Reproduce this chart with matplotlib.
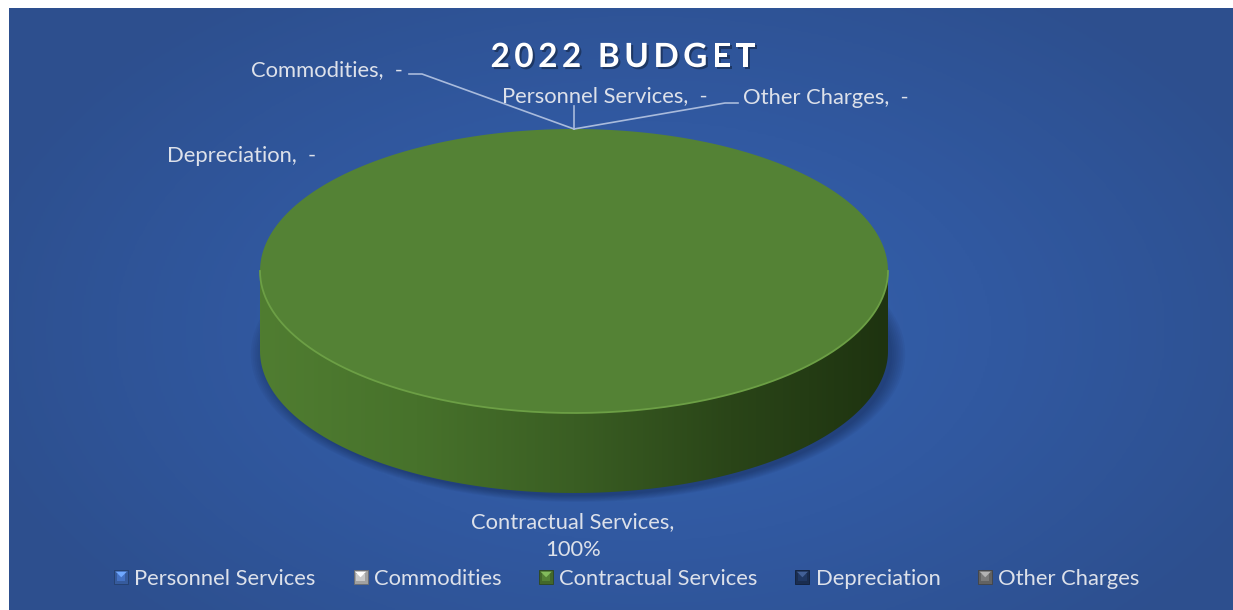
import numpy as np
import matplotlib
matplotlib.use("Agg")
import matplotlib.pyplot as plt
import matplotlib.patheffects as pe
from matplotlib.patches import Polygon, Patch, Rectangle
from matplotlib.colors import LinearSegmentedColormap, to_rgb
from matplotlib.legend_handler import HandlerBase

# data
categories = ["Personnel Services", "Commodities", "Contractual Services",
              "Depreciation", "Other Charges"]
values = [0, 0, 100, 0, 0]
value_labels = ["-", "-", "100%", "-", "-"]
slice_colors = ["#4472c4", "#c9c9c9", "#548235", "#203864", "#7b7b7b"]
title = "2022 BUDGET"

W, H = 1233, 610
fig = plt.figure(figsize=(W / 100, H / 100), dpi=100)
fig.patch.set_facecolor("white")
ax = fig.add_axes([0, 0, 1, 1])
ax.set_xlim(0, W)
ax.set_ylim(H, 0)
ax.axis("off")

# background: radial blue gradient
bx0, by0 = 9, 8
yy, xx = np.mgrid[by0:H:2, bx0:W:2]
r = np.sqrt(((xx - 640) / 700.0) ** 2 + ((yy - 330) / 420.0) ** 2)
bg_cmap = LinearSegmentedColormap.from_list("bg", ["#3564b0", "#3159a1", "#2d4f8e"])
ax.imshow(np.clip(r, 0, 1), cmap=bg_cmap, vmin=0, vmax=1, extent=[bx0, W, H, by0],
          aspect="auto", interpolation="bilinear", zorder=0)

# 3d pie geometry
cx, cy, a, b, depth = 574, 271, 314, 142, 80

def ell(t):
    return cx + a * np.sin(t), cy - b * np.cos(t)

# soft shadow below the pie
for k in range(8):
    t = np.linspace(0, 2 * np.pi, 200)
    sx, sy = ell(t)
    grow = 1 + 0.006 * k
    ax.add_patch(Polygon(np.column_stack([cx + (sx - cx) * grow + 4, cy + (sy - cy) * grow + depth + 3]),
                         closed=True, facecolor="#0b1a3a", edgecolor="none", alpha=0.05, zorder=1))

side_cmap = LinearSegmentedColormap.from_list(
    "side", ["#507d31", "#47722b", "#3a5e23", "#2a4518", "#1e3310"])

total = float(sum(values))
start = 0.0
for cat, v, col in zip(categories, values, slice_colors):
    if v <= 0:
        continue
    t0 = start
    t1 = start + 2 * np.pi * v / total
    start = t1
    # side: visible part is the front half
    s0, s1 = max(t0, np.pi / 2), min(t1, 3 * np.pi / 2)
    if s1 > s0:
        ts = np.linspace(s0, s1, 200)
        ex, ey = ell(ts)
        side = np.column_stack([np.r_[ex, ex[::-1]], np.r_[ey, ey[::-1] + depth]])
        poly = Polygon(side, closed=True, facecolor="none", edgecolor="none", zorder=2)
        ax.add_patch(poly)
        grad = np.linspace(0, 1, 256)[None, :]
        im = ax.imshow(grad, cmap=side_cmap, extent=[cx - a, cx + a, cy + b + depth, cy],
                       aspect="auto", zorder=2)
        im.set_clip_path(poly)
    # top face
    tt = np.linspace(t0, t1, 400)
    tx, ty = ell(tt)
    if v < total:
        tx, ty = np.r_[cx, tx], np.r_[cy, ty]
    ax.add_patch(Polygon(np.column_stack([tx, ty]), closed=True, facecolor=col,
                         edgecolor="none", zorder=3))
    # rim highlight on the front edge
    tr = np.linspace(np.pi / 2, 3 * np.pi / 2, 200)
    rx, ry = ell(tr)
    ax.plot(rx, ry, color="#6c9f45", lw=1.3, zorder=4)

# data labels
label_font = "Lato"
fs = 15.8
lab_col = "#dde1ea"
top_x, top_y = cx, cy - b
lead_col = "#a9bbdc"
ax.plot([top_x, top_x], [top_y, 106], color=lead_col, lw=1.2, zorder=5)
ax.plot([top_x, 422, 409], [top_y, 74, 74], color=lead_col, lw=1.2, zorder=5)
ax.plot([top_x, 725, 738], [top_y, 103, 103], color=lead_col, lw=1.2, zorder=5)

lab_pos = {
    "Personnel Services": (502, 102),
    "Commodities": (251, 76),
    "Depreciation": (167, 162),
    "Other Charges": (743, 104),
}
for cat, vl in zip(categories, value_labels):
    if cat in lab_pos:
        x, y = lab_pos[cat]
        ax.text(x, y, f"{cat},  {vl}", ha="left", va="baseline", fontsize=fs,
                family=label_font, color=lab_col, zorder=6)
ci = categories.index("Contractual Services")
ax.text(573, 528, f"{categories[ci]},", ha="center", va="baseline", fontsize=fs,
        family=label_font, color=lab_col, zorder=6)
ax.text(573, 556, value_labels[ci], ha="center", va="baseline", fontsize=fs,
        family=label_font, color=lab_col, zorder=6)

# title, letter-spaced
renderer = fig.canvas.get_renderer()
title_kw = dict(fontsize=24, fontweight="bold", family="Lato", color="white", zorder=6,
                va="baseline", ha="left",
                path_effects=[pe.withSimplePatchShadow(offset=(1.5, -1.5),
                                                       shadow_rgbFace="black", alpha=0.35)])
track = 4.5
widths = []
for ch in title:
    t = ax.text(0, 0, ch if ch != " " else "a", **title_kw)
    w = t.get_window_extent(renderer).width
    if ch == " ":
        w *= 0.45
    widths.append(w)
    t.remove()
tot = sum(widths) + track * (len(title) - 1)
x = 623 - tot / 2
for ch, w in zip(title, widths):
    if ch != " ":
        ax.text(x, 67, ch, **title_kw)
    x += w + track


# legend markers with a bevel look
class BevelHandler(HandlerBase):
    def create_artists(self, legend, orig_handle, xd, yd, width, height, fontsize, trans):
        c = np.array(to_rgb(orig_handle.get_facecolor()))
        s = min(width, height)
        x0 = xd * -1 + (width - s) / 2
        y0 = yd * -1 + (height - s) / 2
        sq = Rectangle((x0, y0), s, s, facecolor=c * 0.8, edgecolor=c * 0.55,
                       linewidth=0.6, transform=trans)
        tri = Polygon([[x0 + 1, y0 + s - 1], [x0 + s - 1, y0 + s - 1], [x0 + s / 2, y0 + s / 2]],
                      closed=True, facecolor=np.clip(c * 1.25 + 0.1, 0, 1),
                      edgecolor="none", transform=trans)
        inner = Rectangle((x0 + s * 0.2, y0 + s * 0.2), s * 0.6, s * 0.5, facecolor=c,
                          edgecolor="none", transform=trans)
        return [sq, inner, tri]


handles = [Patch(facecolor=c) for c in slice_colors]
leg = ax.legend(handles, categories, loc="center", bbox_to_anchor=(627, 579),
                bbox_transform=ax.transData, ncol=5, frameon=False,
                prop={"family": label_font, "size": fs}, labelcolor=lab_col,
                handlelength=0.64, handleheight=0.64, handletextpad=0.28,
                columnspacing=1.72, borderpad=0,
                handler_map={Patch: BevelHandler()})

fig.savefig("out.png", dpi=100, facecolor=fig.get_facecolor())
